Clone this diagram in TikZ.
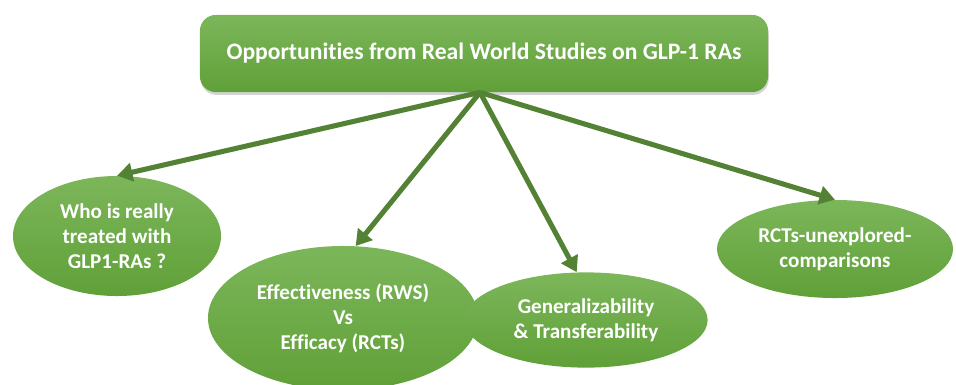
\documentclass[tikz,border=0pt]{standalone}
\usepackage{fontspec}
\setmainfont{Carlito}[Ligatures=NoCommon]
\usetikzlibrary{shapes.geometric,arrows.meta,shadows}

\definecolor{leafhi}{RGB}{124,182,90}
\definecolor{leaflo}{RGB}{96,160,56}
\definecolor{stem}{RGB}{84,130,53}

\begin{document}
\begin{tikzpicture}[x=0.025cm,y=-0.025cm,
    headbox/.style={rectangle,rounded corners=0.4cm,minimum width=14.2cm,minimum height=1.93cm,
      top color=leafhi,bottom color=leaflo,draw=none,text=white,
      font=\bfseries\fontsize{16.8}{20}\selectfont,
      drop shadow={opacity=0.35,shadow xshift=0.5pt,shadow yshift=-2pt}},
    bubble/.style={ellipse,inner sep=0pt,top color=leafhi,bottom color=leaflo,draw=none,
      text=white,align=center,font=\bfseries\fontsize{15}{17.9}\selectfont},
    link/.style={draw=stem,line width=3.6pt,-{Triangle[length=11pt,width=13pt]}}]
  \useasboundingbox (0,0) rectangle (956,384);
  \clip (0,0) rectangle (956,384);
  % title
  \node[headbox] (top) at (484,53.5) {Opportunities from Real World Studies on GLP-1 RAs};
  % topics
  \node[bubble,minimum width=5.2cm,minimum height=3.0cm] (who) at (117,236)
    {Who is really\\treated with\\GLP1-RAs ?};
  \node[bubble,minimum width=6.75cm,minimum height=3.6cm] (eff) at (343,318)
    {Effectiveness (RWS)\\Vs\\Efficacy (RCTs)};
  \node[bubble,minimum width=6.08cm,minimum height=2.38cm] (gen) at (586,320)
    {Generalizability\\\& Transferability};
  \node[bubble,minimum width=5.9cm,minimum height=2.45cm] (rct) at (835,249)
    {RCTs-unexplored-\\comparisons};
  % links
  \coordinate (hub) at ([xshift=-0.1cm]top.south);
  \draw[link] (hub) -- (who.north);
  \draw[link] (hub) -- (eff.80);
  \draw[link] (hub) -- (gen.101);
  \draw[link] (hub) -- (rct.north);
\end{tikzpicture}
\end{document}
